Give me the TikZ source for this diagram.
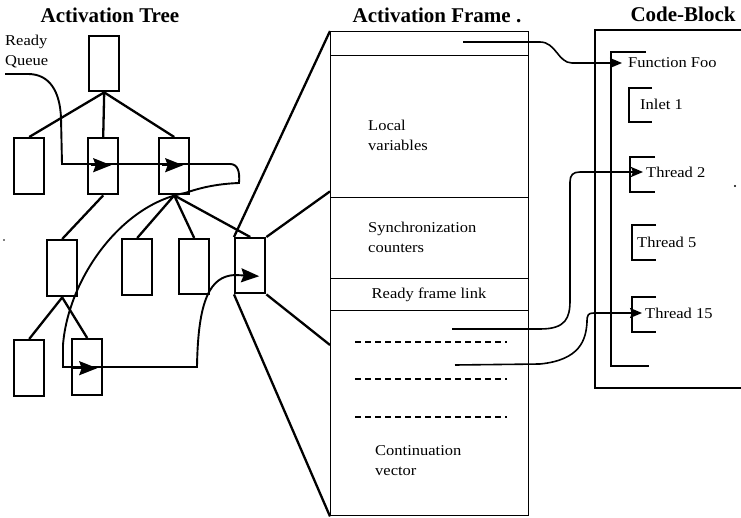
\documentclass[tikz,border=0pt]{standalone}
\usepackage{fontspec}
\setmainfont{Liberation Serif}
\newfontfamily\bodyf{Liberation Serif}[FakeStretch=1.1]
\usetikzlibrary{arrows.meta,calc}
\begin{document}
\begin{tikzpicture}[x=1pt,y=-1pt,
  tb/.style={draw, line width=2.4pt, minimum width=30pt, minimum height=56pt, inner sep=0pt, anchor=north west},
  tedge/.style={line width=2.3pt},
  link/.style={line width=1.9pt},
  tipL/.style={line width=1.9pt, -{Stealth[length=18pt,width=14pt,inset=2.5pt]}},
  tipS/.style={line width=1.6pt, -{Stealth[length=12pt,width=10pt,inset=2pt]}},
  fsec/.style={draw, line width=1.4pt, minimum width=198pt, inner sep=0pt, anchor=north west},
  lbl/.style={font=\bodyf\fontsize{15}{20}\selectfont, inner sep=0pt, align=left},
  ttl/.style={font=\bfseries\fontsize{21}{24}\selectfont, inner sep=0pt},
  dsh/.style={line width=1.4pt, dash pattern=on 6pt off 4pt},
  cb/.style={line width=1.6pt},
]
\path[use as bounding box, fill=white] (0,0) rectangle (741,518);

% titles
\node[ttl] (h1) at (110,15) {Activation Tree};
\node[ttl] (h2) at (437,15) {Activation Frame .};
\node[ttl] (h3) at (683,14) {Code-Block};

% activation tree
\node[tb, minimum height=55pt] (R) at (88,35) {};
\node[tb] (L1) at (13,137) {};
\node[tb] (M1) at (87,137) {};
\node[tb] (N1) at (158,137) {};
\node[tb] (A) at (46,239) {};
\node[tb] (B) at (121,238) {};
\node[tb, minimum height=55pt] (C) at (178,238) {};
\node[tb, minimum height=55pt] (D) at (234,237) {};
\node[tb] (E) at (13,339) {};
\node[tb] (F) at (71,338) {};

\draw[tedge] (R.south) -- (L1.north);
\draw[tedge] (R.south) -- (M1.north);
\draw[tedge] (R.south) -- (N1.north);
\draw[tedge] (M1.south) -- (A.north);
\draw[tedge] (N1.south) -- (B.north);
\draw[tedge] (N1.south) -- (C.north);
\draw[tedge] (N1.south) -- (D.north);
\draw[tedge] (A.south) -- (E.north);
\draw[tedge] (A.south) -- (F.north);

\node[lbl, anchor=west] (rqt) at (5,52) {Ready\\Queue};

% activation frame
\node[fsec, minimum height=24pt] (f0) at (330,31) {};
\node[fsec, minimum height=142pt] (f1) at (330,55) {};
\node[fsec, minimum height=81pt] (f2) at (330,197) {};
\node[fsec, minimum height=32pt] (f3) at (330,278) {};
\node[fsec, minimum height=205pt] (f4) at (330,310) {};

\node[lbl, anchor=west] (lv) at (368,135) {Local\\variables};
\node[lbl, anchor=west] (sc) at (368,237) {Synchronization\\counters};
\node[lbl] (rf) at (429,295) {Ready frame link};
\node[lbl, anchor=west] (cv) at (375,461) {Continuation\\vector};

\draw[dsh] (355,342) -- (507,342);
\draw[dsh] (355,379) -- (507,379);
\draw[dsh] (355,417) -- (507,417);

% fan from D to frame
\draw[tedge] (D.north west) -- (f0.north west);
\draw[tedge] (D.north east) -- ($(f1.south west)+(0,-7)$);
\draw[tedge] (D.south east) -- ($(f4.north west)+(0,35)$);
\draw[tedge] (D.south west) -- (f4.south west);

% ready queue link
\coordinate (rq) at (5,74);
\draw[tipL] (rq) -- (28,74) .. controls (50,74) and (60,92) .. (61,118) -- (62,164) -- (230,164)
  .. controls (238,164) and (240,172) .. (239,183)
  .. controls (215,184) and (200,188) .. (185,193)
  .. controls (120,205) and (68,280) .. (63,345) -- (63,367) -- (197,367)
  .. controls (198,300) and (210,276) .. (235,275) -- ($(D.center)+(9,10.5)$);
\draw[tipL] ($(M1.center)+(-12,-1)$) -- ($(M1.center)+(8,-1)$);
\draw[tipL] ($(N1.center)+(-12,-1)$) -- ($(N1.center)+(9,-1)$);
\draw[tipL] ($(F.center)+(-14,1)$) -- ($(F.center)+(10,1)$);

% code block
\draw[cb] (741,30) -- (595,30) -- (595,388) -- (741,388);
\draw[cb] (646,52) -- (611,52) -- (611,366) -- (649,366);
\draw[cb] (652,88) -- (629,88) -- (629,122) -- (652,122);
\draw[cb] (655,157) -- (630,157) -- (630,192) -- (655,192);
\draw[cb] (656,225) -- (632,225) -- (632,260) -- (656,260);
\draw[cb] (656,297) -- (632,297) -- (632,332) -- (656,332);

\node[lbl, anchor=west, inner xsep=6pt] (fn) at (622,63) {Function Foo};
\node[lbl, anchor=west] (in1) at (640,104) {Inlet 1};
\node[lbl, anchor=west, inner xsep=3pt] (th2) at (643,172) {Thread 2};
\node[lbl, anchor=west] (th5) at (637,242) {Thread 5};
\node[lbl, anchor=west, inner xsep=3pt] (th15) at (642,313) {Thread 15};

% frame to code links
\coordinate (s1) at (463,42);
\coordinate (s2) at (452,329);
\coordinate (s3) at (455,365);
\draw[tipS] (s1) -- (540,42) .. controls (556,42) and (558,63) .. (572,63) -- (fn.west);
\draw[tipS] (s2) -- (540,329) .. controls (566,329) and (570,318) .. (570,300) -- (570,182)
  .. controls (570,175) and (573,172) .. (580,172) -- (th2.west);
\draw[tipS] (s3) -- (540,364) .. controls (580,360) and (586,340) .. (587,322)
  .. controls (587,315) and (588,313) .. (594,313) -- (th15.west);

% specks
\fill (735,186) circle (1.2);
\fill (4,240) circle (0.8);
\end{tikzpicture}
\end{document}
